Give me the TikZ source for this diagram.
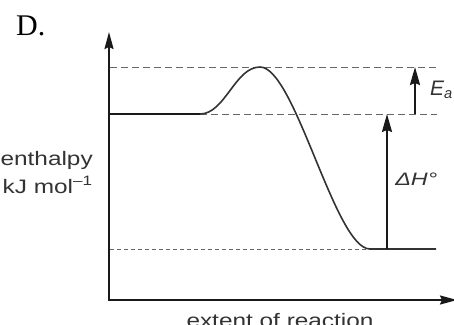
\documentclass[tikz,border=0pt]{standalone}
\usepackage{fontspec}
\setmainfont{Liberation Serif}
\setsansfont{Liberation Sans}
\usetikzlibrary{arrows.meta}
\begin{document}
\begin{tikzpicture}[x=1pt,y=-1pt,
  axis/.style={line width=2pt, draw=black!90},
  bigtip/.style={{Stealth[length=17pt,width=9pt,inset=2pt]}-{Stealth[length=17pt,width=9pt,inset=2pt]}},
  uptip/.style={-{Stealth[length=18pt,width=10pt,inset=2pt]}},
  level/.style={line width=2pt, draw=black!90},
  curve/.style={line width=1.6pt, draw=black!80},
  guide/.style={draw=black!60, line width=1pt, dash pattern=on 7pt off 4pt},
  lbl/.style={font=\sffamily\fontsize{19.5}{20}\selectfont, text=black!80, inner sep=0pt, xscale=1.25},
]
\useasboundingbox (0,0) rectangle (454,324);
% structural coordinates
\coordinate (O) at (109,300);
\coordinate (Ytop) at (109,32);
\coordinate (Xend) at (457,300);
\coordinate (R0) at (109,114);
\coordinate (R1) at (200,114);
\coordinate (Peak) at (260,67);
\coordinate (P1) at (370,249);
\coordinate (P2) at (436,249);
\coordinate (T0) at (110,67);
\coordinate (T1) at (437,67);
\coordinate (M1) at (437,114);
\coordinate (B0) at (110,249);
\coordinate (EaB) at (415,114);
\coordinate (EaT) at (415,67);
\coordinate (HB) at (387,249);
\coordinate (HT) at (387,114);
% guide lines
\draw[guide] (T0) -- (T1);
\draw[guide] (R1) -- (M1);
\draw[guide, dash pattern=on 4pt off 3pt] (B0) -- (P1);
% axes
\draw[axis, bigtip] (Ytop) -- (O) -- (Xend);
% profile
\draw[curve] (R0) -- (R1) .. controls (225,114) and (235,67) .. (Peak)
  .. controls (295,67) and (335,249) .. (P1) -- (P2);
\draw[level] (R0) -- (R1);
% arrows
\draw[axis, uptip] (EaB) -- (EaT);
\draw[axis, uptip] (HB) -- (HT);
% labels
\node[anchor=base west, font=\fontsize{30}{30}\selectfont, inner sep=0pt] (D) at (16,35) {D.};
\node[lbl, anchor=base east] (en) at (93,165) {enthalpy};
\node[lbl, anchor=base east] (un) at (93,193) {/ kJ mol\textsuperscript{–1}};
\node[lbl, anchor=base] (xl) at (280,327) {extent of reaction};
\node[lbl, anchor=base west, font=\sffamily\fontsize{18}{18}\selectfont, xscale=1.04] (dh) at (395,185) {\itshape ΔH°};
\node[lbl, anchor=base west, font=\sffamily\fontsize{21}{21}\selectfont, xscale=0.8] (ea) at (430,95) {\itshape E\textsubscript{a}};
\end{tikzpicture}
\end{document}
